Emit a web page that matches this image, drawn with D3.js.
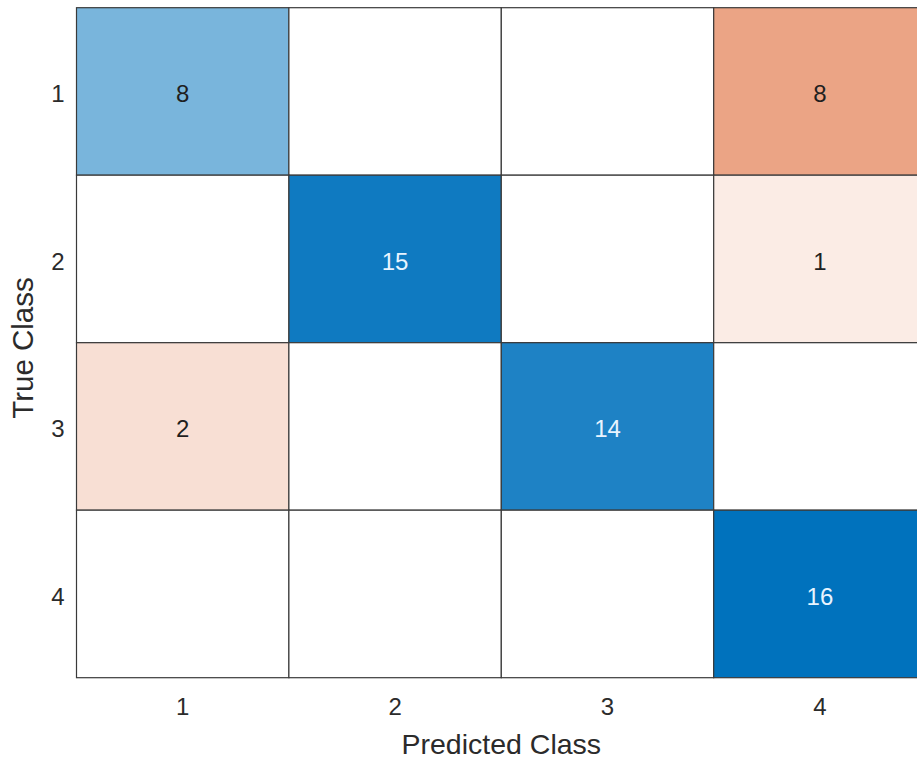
<!DOCTYPE html>
<html>
<head>
<meta charset="utf-8">
<script src="https://cdn.jsdelivr.net/npm/d3@7"></script>
<style>
  html, body { margin: 0; padding: 0; background: #ffffff; }
  svg { display: block; }
  text { font-family: "Liberation Sans", Arial, Helvetica, sans-serif; }
</style>
</head>
<body>
<svg id="chart" width="917" height="761"></svg>
<script>
// Class labels shared by both axes
const classes = ["1", "2", "3", "4"];
// Counts: rows = true class, columns = predicted class
const row1 = [8, 0, 0, 8];
const row2 = [0, 15, 0, 1];
const row3 = [2, 0, 14, 0];
const row4 = [0, 0, 0, 16];
const counts = [row1, row2, row3, row4];

const xTitle = "Predicted Class";
const yTitle = "True Class";

const svg = d3.select("#chart");
const gridLeft = 76.5, gridTop = 7.7, cellW = 212.4, cellH = 167.5;

const x = d3.scaleBand().domain(classes).range([gridLeft, gridLeft + cellW * classes.length]);
const y = d3.scaleBand().domain(classes).range([gridTop, gridTop + cellH * classes.length]);

// Correct predictions shade toward blue, errors toward orange-red
const diagMax = d3.max(classes.map((c, i) => counts[i][i]));
const offMax = d3.max(counts.flatMap((r, i) => r.filter((_, j) => j !== i)));
const diagT = d3.scalePow().exponent(0.93).domain([0, diagMax]).range([0, 1]);
const offT = d3.scalePow().exponent(0.75).domain([0, offMax]).range([0, 0.53]);
const blue = d3.interpolateRgb("#ffffff", "#0072bd");
const red = d3.interpolateRgb("#ffffff", "#d95319");

const cells = [];
counts.forEach((r, i) => r.forEach((v, j) => cells.push({ t: classes[i], p: classes[j], v, diag: i === j })));

function fillOf(d) {
  if (d.v === 0) return "#ffffff";
  return d.diag ? blue(diagT(d.v)) : red(offT(d.v));
}

svg.append("g").selectAll("rect").data(cells).join("rect")
  .attr("x", d => x(d.p))
  .attr("y", d => y(d.t))
  .attr("width", x.bandwidth())
  .attr("height", y.bandwidth())
  .attr("fill", fillOf)
  .attr("stroke", "#3a3a3a")
  .attr("stroke-width", 1.2);

svg.append("g").selectAll("text").data(cells.filter(d => d.v > 0)).join("text")
  .attr("x", d => x(d.p) + x.bandwidth() / 2)
  .attr("y", d => y(d.t) + y.bandwidth() / 2)
  .attr("dy", "0.46em")
  .attr("text-anchor", "middle")
  .attr("font-size", 24)
  .attr("fill", d => (d.diag && diagT(d.v) > 0.7) ? "#e8f4ff" : "#1f1f1f")
  .text(d => d.v);

const xAxis = svg.append("g")
  .attr("transform", `translate(0,${gridTop + cellH * classes.length})`)
  .call(d3.axisBottom(x).tickSize(0).tickPadding(20.5));
const yAxis = svg.append("g")
  .attr("transform", `translate(${gridLeft},0)`)
  .call(d3.axisLeft(y).tickSize(0).tickPadding(12));
yAxis.selectAll("text").attr("dy", "0.46em");
[xAxis, yAxis].forEach(g => {
  g.select(".domain").remove();
  g.selectAll("text")
    .attr("font-size", 24)
    .attr("font-family", "'Liberation Sans', Arial, sans-serif")
    .attr("fill", "#2b2b2b");
});

svg.append("text")
  .attr("x", gridLeft + cellW * classes.length / 2)
  .attr("y", 754)
  .attr("text-anchor", "middle")
  .attr("font-size", 28.5)
  .attr("fill", "#2b2b2b")
  .text(xTitle);

svg.append("text")
  .attr("transform", `translate(33,348) rotate(-90)`)
  .attr("text-anchor", "middle")
  .attr("font-size", 29.5)
  .attr("fill", "#2b2b2b")
  .text(yTitle);
</script>
</body>
</html>
